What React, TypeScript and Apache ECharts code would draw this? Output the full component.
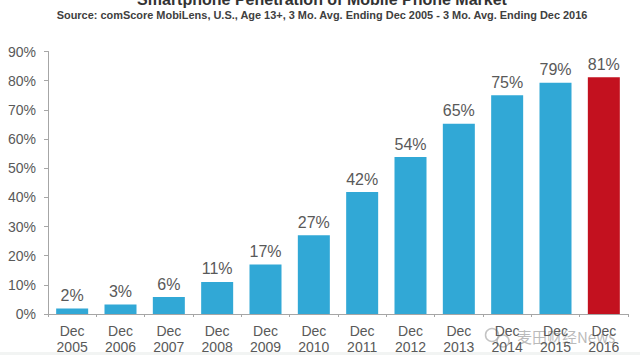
import React, { useEffect, useRef } from "react";
import * as echarts from "echarts";

const categories = ["Dec\n2005","Dec\n2006","Dec\n2007","Dec\n2008","Dec\n2009","Dec\n2010","Dec\n2011","Dec\n2012","Dec\n2013","Dec\n2014","Dec\n2015","Dec\n2016"];
const values = [1.9,3.3,5.8,11,17,27,41.8,53.8,65.2,75,79.3,81.2];
const valueLabels = ["2%","3%","6%","11%","17%","27%","42%","54%","65%","75%","79%","81%"];
const titleText = "Smartphone Penetration of Mobile Phone Market";
const subtitleText = "Source: comScore MobiLens, U.S., Age 13+, 3 Mo. Avg. Ending Dec 2005 - 3 Mo. Avg. Ending Dec 2016";
const watermarkText = "麦田财经News";

const FONT = "Liberation Sans";
const GREY = "#595959";

export default function App() {
  const ref = useRef<HTMLDivElement>(null);
  useEffect(() => {
    const chart = echarts.init(ref.current!, null, { renderer: "svg" });
    chart.setOption({
      animation: false,
      backgroundColor: "#fff",
      grid: { left: 48, right: 12, top: 51.5, bottom: 40.5, containLabel: false },
      xAxis: {
        type: "category",
        data: categories,
        axisLine: { lineStyle: { color: "#a6a6a6" } },
        axisTick: { show: true, length: 3, alignWithLabel: false, lineStyle: { color: "#a6a6a6" } },
        axisLabel: { fontFamily: FONT, fontSize: 14, color: GREY, margin: 9, lineHeight: 16, interval: 0 },
      },
      yAxis: {
        type: "value",
        min: 0,
        max: 90,
        interval: 10,
        axisLine: { show: true, lineStyle: { color: "#a6a6a6" } },
        axisTick: { show: true, length: 4, lineStyle: { color: "#a6a6a6" } },
        splitLine: { show: false },
        axisLabel: { fontFamily: FONT, fontSize: 14, color: GREY, margin: 12, formatter: "{value}%" },
      },
      series: [{
        type: "bar",
        barWidth: 32,
        data: values.map((v, i) => ({
          value: v,
          itemStyle: { color: i === values.length - 1 ? "#c3111f" : "#31a8d6" },
        })),
        label: {
          show: true,
          position: "top",
          distance: 5,
          fontFamily: FONT,
          fontSize: 16,
          color: GREY,
          formatter: (p: any) => valueLabels[p.dataIndex],
        },
      }],
      graphic: [
        { type: "rect", silent: true, shape: { x: 0, y: 352, width: 640, height: 3 }, style: { fill: "#f2f4f3" } },
        { type: "text", x: 322, y: -9, style: { text: titleText, fontFamily: FONT, fontSize: 16, fontWeight: "bold", fill: "#333", textAlign: "center", textVerticalAlign: "top" } },
        { type: "text", x: 322, y: 9, style: { text: subtitleText, fontFamily: FONT, fontSize: 10.95, fontWeight: "bold", fill: "#404040", textAlign: "center", textVerticalAlign: "top" } },
        { type: "text", x: 517, y: 329, style: { text: watermarkText, fontFamily: "Noto Sans CJK SC", fontSize: 15, fill: "rgba(140,140,140,0.6)", textVerticalAlign: "top" } },
        { type: "circle", shape: { cx: 492, cy: 335, r: 6.5 }, style: { fill: "none", stroke: "rgba(170,170,170,0.7)", lineWidth: 1.5 } },
        { type: "circle", shape: { cx: 503, cy: 341, r: 6 }, style: { fill: "none", stroke: "rgba(170,170,170,0.7)", lineWidth: 1.5 } },
      ],
    });
    return () => chart.dispose();
  }, []);
  return <div ref={ref} style={{ position: "fixed", left: 0, top: 0, width: 640, height: 355 }} />;
}
